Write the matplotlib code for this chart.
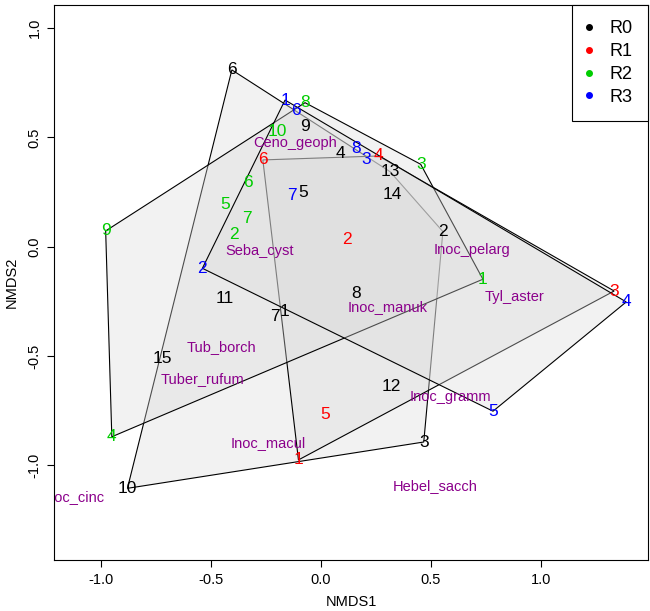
import numpy as np
import matplotlib
matplotlib.use("Agg")
import matplotlib.pyplot as plt
from matplotlib.patches import Polygon
from matplotlib.lines import Line2D

plt.rcParams['font.family'] = ['Liberation Sans', 'DejaVu Sans']

# --- site scores (NMDS1, NMDS2) per group ---
r0_x = [-0.167, 0.555, 0.468, 0.091, -0.080, -0.405, -0.208, 0.162, -0.072, -0.880,
        -0.436, 0.322, 0.315, 0.323, -0.719]
r0_y = [-0.297, 0.069, -0.894, 0.427, 0.247, 0.809, -0.320, -0.214, 0.549, -1.106,
        -0.238, -0.642, 0.343, 0.237, -0.514]

r1_x = [-0.102, 0.118, 1.334, 0.262, 0.019, -0.264]
r1_y = [-0.976, 0.031, -0.203, 0.415, -0.768, 0.397]

r2_x = [0.737, -0.394, 0.454, -0.951, -0.434, -0.334, -0.337, -0.072, -0.979, -0.198]
r2_y = [-0.149, 0.054, 0.377, -0.870, 0.191, 0.293, 0.130, 0.659, 0.072, 0.526]

r3_x = [-0.163, -0.539, 0.206, 1.389, 0.783, -0.113, -0.132, 0.159]
r3_y = [0.671, -0.099, 0.400, -0.253, -0.753, 0.622, 0.232, 0.450]

groups = ['R0', 'R1', 'R2', 'R3']
group_cols = ['black', 'red', '#00CD00', 'blue']

# --- species scores ---
species = ['Ceno_geoph', 'Seba_cyst', 'Inoc_pelarg', 'Tyl_aster', 'Inoc_manuk',
           'Tub_borch', 'Tuber_rufum', 'Inoc_gramm', 'Inoc_macul', 'Hebel_sacch',
           'Inoc_cinc']
sp_x = [-0.117, -0.277, 0.687, 0.879, 0.303, -0.451, -0.539, 0.590, -0.239, 0.518, -1.125]
sp_y = [0.473, -0.018, -0.015, -0.230, -0.276, -0.458, -0.607, -0.688, -0.900, -1.095, -1.147]


def convex_hull(x, y):
    """Monotone chain hull, returns vertices in order."""
    pts = sorted(set(zip(x, y)))
    def cross(o, a, b):
        return (a[0] - o[0]) * (b[1] - o[1]) - (a[1] - o[1]) * (b[0] - o[0])
    lower, upper = [], []
    for p in pts:
        while len(lower) >= 2 and cross(lower[-2], lower[-1], p) <= 0:
            lower.pop()
        lower.append(p)
    for p in reversed(pts):
        while len(upper) >= 2 and cross(upper[-2], upper[-1], p) <= 0:
            upper.pop()
        upper.append(p)
    return np.array(lower[:-1] + upper[:-1])


fig = plt.figure(figsize=(6.5, 6.11), dpi=100)
ax = fig.add_axes([54 / 650, 1 - 560 / 611, 594 / 650, 555 / 611])
ax.set_xlim(-1.214, 1.488)
ax.set_ylim(-1.434, 1.106)

xs = [r0_x, r1_x, r2_x, r3_x]
ys = [r0_y, r1_y, r2_y, r3_y]

# hulls, drawn in group order so later fills wash over earlier borders
for gx, gy in zip(xs, ys):
    hull = convex_hull(gx, gy)
    ax.add_patch(Polygon(hull, closed=True, facecolor=(0.86, 0.86, 0.86, 0.35),
                         edgecolor='black', linewidth=0.8, zorder=2))

# site labels
for gx, gy, col in zip(xs, ys, group_cols):
    for i, (px, py) in enumerate(zip(gx, gy)):
        ax.text(px, py, str(i + 1), color=col, fontsize=12.5,
                ha='center', va='center', zorder=5)

# species labels
for name, px, py in zip(species, sp_x, sp_y):
    ax.text(px, py, name, color='#8B008B', fontsize=10.5,
            ha='center', va='center', zorder=5, clip_on=True)

handles = [Line2D([], [], linestyle='none', marker='o', markersize=4,
                  color=c) for c in group_cols]
leg = ax.legend(handles, groups, loc='upper right', borderaxespad=0,
                fancybox=False, framealpha=1, edgecolor='black', fontsize=13,
                handlelength=0.2, handletextpad=1.05, labelspacing=0.32,
                borderpad=0.85)
leg.get_frame().set_linewidth(0.8)

ax.set_xticks([-1.0, -0.5, 0.0, 0.5, 1.0])
ax.set_yticks([-1.0, -0.5, 0.0, 0.5, 1.0])
ax.set_xticklabels(['-1.0', '-0.5', '0.0', '0.5', '1.0'])
ax.set_yticklabels(['-1.0', '-0.5', '0.0', '0.5', '1.0'], rotation=90, va='center')
ax.tick_params(length=5, width=0.8, labelsize=10.5, pad=4)
ax.set_xlabel('NMDS1', fontsize=10.5, labelpad=6)
ax.set_ylabel('NMDS2', fontsize=10.5, labelpad=6)
for s in ax.spines.values():
    s.set_linewidth(0.8)

fig.savefig('out.png', dpi=100)
